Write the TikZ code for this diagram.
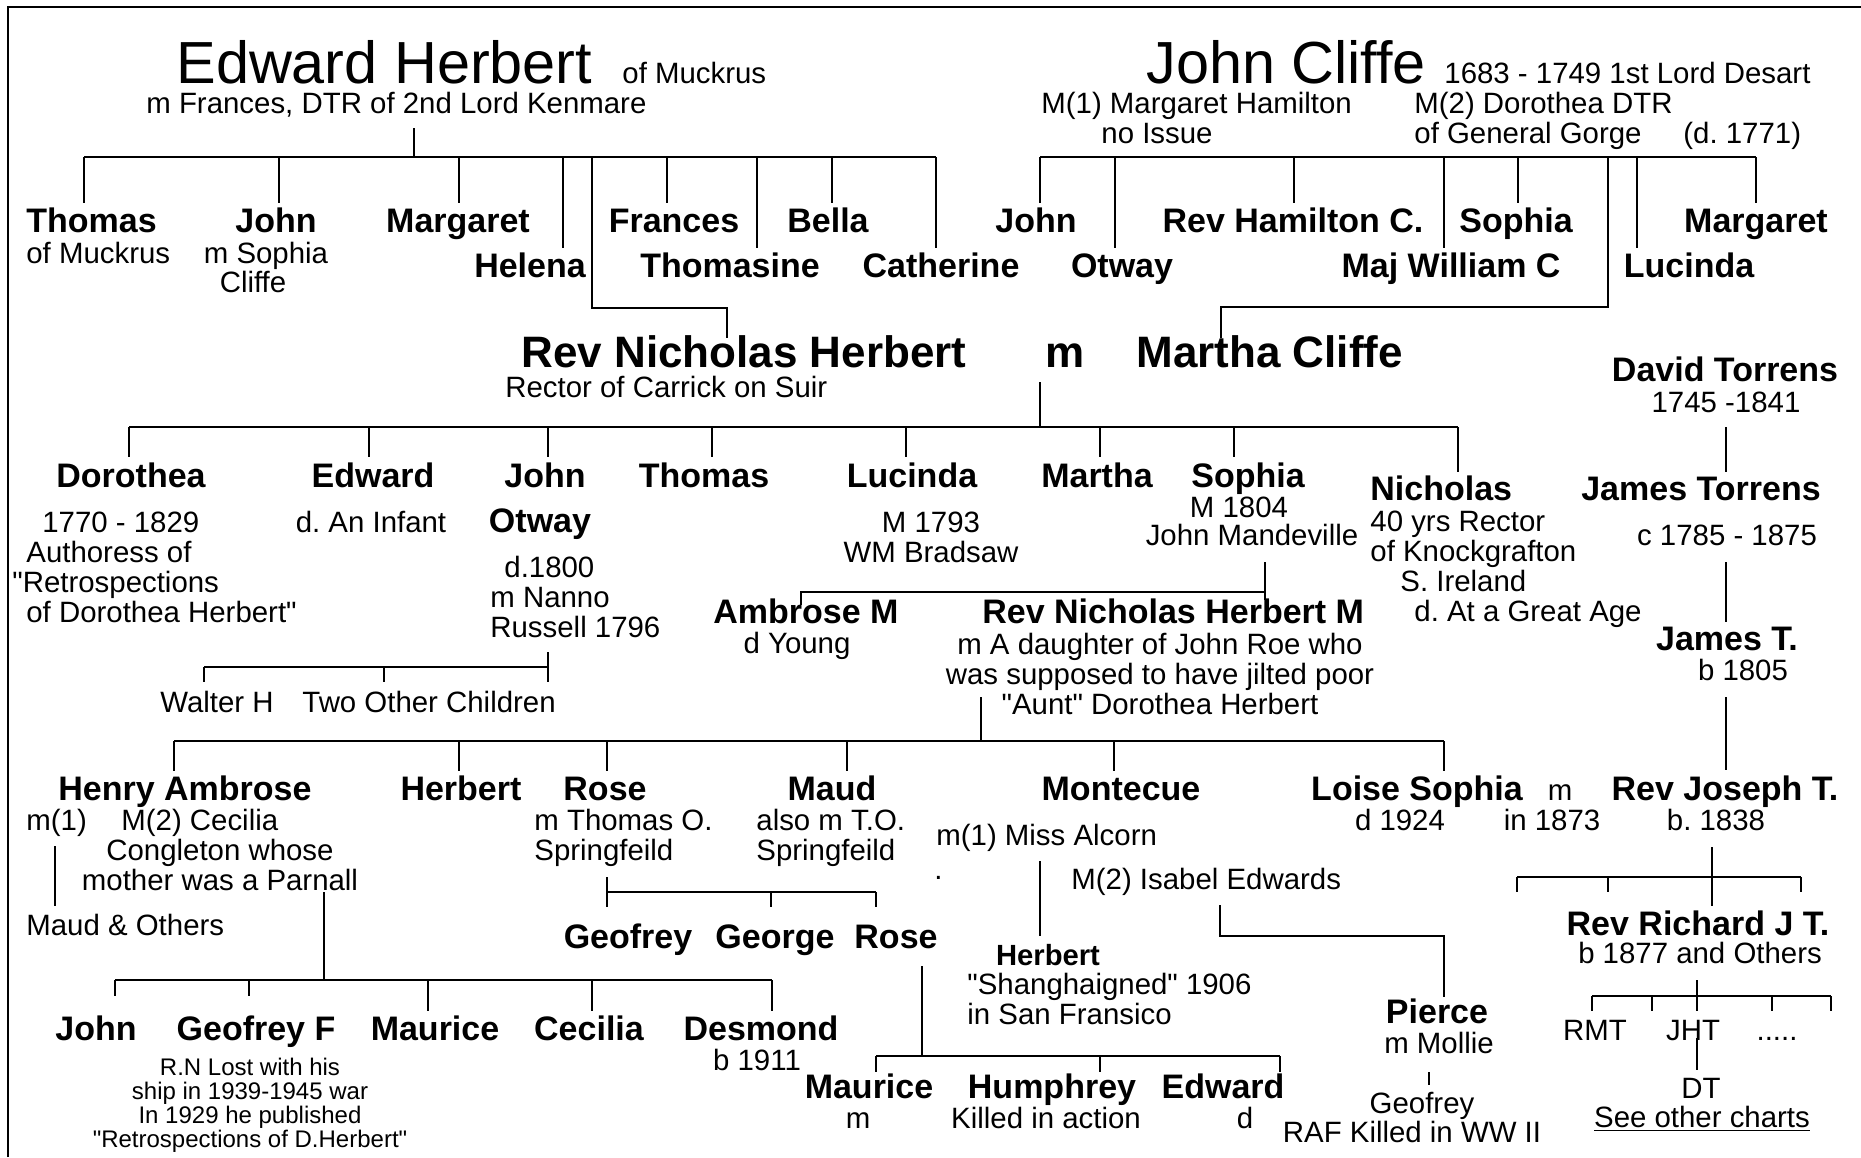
\documentclass[tikz,border=0pt]{standalone}
\usepackage{fontspec}
\setmainfont{Liberation Sans}
\newcommand{\qq}{\textquotedbl}
\frenchspacing
\begin{document}
\begin{tikzpicture}[x=0.5pt,y=-0.5pt,
    every node/.style={inner sep=0pt,anchor=base},
    big/.style={font=\fontsize{29.7}{32}\selectfont,text depth=0pt},
    head/.style={font=\bfseries\fontsize{22}{24}\selectfont},
    nm/.style={font=\bfseries\fontsize{17}{18}\selectfont},
    snm/.style={font=\bfseries\fontsize{14.6}{15}\selectfont},
    txt/.style={font=\fontsize{14.7}{15}\selectfont,align=left},
    ctxt/.style={font=\fontsize{14.7}{15}\selectfont,align=center},
    small/.style={font=\fontsize{12}{12}\selectfont,align=center},
    ln/.style={line width=1.1pt}]
\useasboundingbox (0,0) rectangle (1861,1157);
\draw[line width=1.3pt] (8,1157) -- (8,7) -- (1861,7);

% Edward Herbert and John Cliffe
\node[big,anchor=base west] (eh) at (176,83) {Edward Herbert};
\node[txt,anchor=base west] (ehOf) at (622,83) {of Muckrus};
\node[txt,anchor=base west] (ehWife) at (146,113) {m Frances, DTR of 2nd Lord Kenmare};
\node[big,anchor=base west] (jc) at (1146,83) {John Cliffe};
\node[txt,anchor=base west] (jcYrs) at (1444,83) {1683 - 1749 1st Lord Desart};
\node[txt,anchor=base west] (jcWifeA) at (1041,113) {M(1) Margaret Hamilton};
\node[ctxt] (jcIssue) at (1157,143) {no Issue};
\node[txt,anchor=base west] (jcWifeB) at (1414,143) {M(2) Dorothea DTR\\of General Gorge};
\node[txt,anchor=base west] (jcDied) at (1683,143) {(d. 1771)};

% children of Edward Herbert
\node[nm,anchor=base west] (thomasA) at (26,232) {Thomas};
\node[txt,anchor=base west] (thomasAof) at (26,263) {of Muckrus};
\node[nm] (johnA) at (276,232) {John};
\node[ctxt] (johnAm) at (266,263) {m Sophia};
\node[ctxt] (johnAc) at (253,292) {Cliffe};
\node[nm] (margaretA) at (458,232) {Margaret};
\node[nm] (helena) at (530,277) {Helena};
\node[nm] (frances) at (674,232) {Frances};
\node[nm] (thomasine) at (730,277) {Thomasine};
\node[nm] (bella) at (828,232) {Bella};
\node[nm] (catherine) at (941,277) {Catherine};

% children of John Cliffe
\node[nm] (johnB) at (1036,232) {John};
\node[nm] (otwayB) at (1122,277) {Otway};
\node[nm] (hamilton) at (1293,232) {Rev Hamilton C.};
\node[nm] (sophiaB) at (1516,232) {Sophia};
\node[nm] (william) at (1451,277) {Maj William C};
\node[nm] (lucindaB) at (1689,277) {Lucinda};
\node[nm] (margaretB) at (1756,232) {Margaret};

\draw[ln] (414,128) -- (414,157);
\draw[ln] (84,157) -- (936,157);
\foreach \x in {84,279,459,667,832} \draw[ln] (\x,157) -- (\x,203);
\foreach \x in {563,757,936} \draw[ln] (\x,157) -- (\x,248);
\draw[ln] (592,157) -- (592,308) -- (727,308) -- (727,338);
\draw[ln] (1040,157) -- (1756,157);
\foreach \x in {1040,1294,1518,1756} \draw[ln] (\x,157) -- (\x,203);
\foreach \x in {1115,1444,1637} \draw[ln] (\x,157) -- (\x,248);
\draw[ln] (1608,157) -- (1608,307) -- (1221,307) -- (1221,338);

% Rev Nicholas Herbert m Martha Cliffe
\node[head,anchor=base west] (nich) at (521,367) {Rev Nicholas Herbert};
\node[txt,anchor=base west] (nichRector) at (505,397) {Rector of Carrick on Suir};
\node[head] (nichM) at (1065,367) {m};
\node[head,anchor=base west] (martha) at (1136,367) {Martha Cliffe};
\node[nm] (david) at (1725,381) {David Torrens};
\node[ctxt] (davidYrs) at (1726,412) {1745 -1841};

\draw[ln] (1040,382) -- (1040,427);
\draw[ln] (129,427) -- (1458,427);
\foreach \x in {129,369,548,712,906,1100,1234} \draw[ln] (\x,427) -- (\x,457);
\draw[ln] (1458,427) -- (1458,472);

% their children
\node[nm] (dorothea) at (131,487) {Dorothea};
\node[txt,anchor=base west] (dorotheaTxt) at (12,622) {\hspace*{15pt}1770 - 1829\\\hspace*{7pt}Authoress of\\\qq Retrospections\\\hspace*{7pt}of Dorothea Herbert\qq};
\node[nm] (edward) at (373,487) {Edward};
\node[ctxt] (edwardTxt) at (371,532) {d. An Infant};
\node[nm] (johnC) at (545,487) {John};
\node[nm] (otwayC) at (540,532) {Otway};
\node[txt,anchor=base west] (johnCtxt) at (490,637) {\hspace*{7pt}d.1800\\m Nanno\\Russell 1796};
\node[nm] (thomasC) at (704,487) {Thomas};
\node[nm] (lucindaC) at (912,487) {Lucinda};
\node[ctxt] (lucindaTxt) at (931,562) {M 1793\\WM Bradsaw};
\node[nm] (marthaC) at (1097,487) {Martha};
\node[nm] (sophiaC) at (1248,487) {Sophia};
\node[ctxt] (sophiaYr) at (1239,517) {M 1804};
\node[ctxt] (sophiaHus) at (1252,545) {John Mandeville};
\node[nm,anchor=base west] (nicholas) at (1370,500) {Nicholas};
\node[txt,anchor=base west] (nicholasTxt) at (1370,621) {40 yrs Rector\\of Knockgrafton\\\hspace*{15pt}S. Ireland\\\hspace*{22pt}d. At a Great Age};
\node[nm] (jamesA) at (1701,500) {James Torrens};
\node[ctxt] (jamesAyrs) at (1727,545) {c 1785 - 1875};

\node[txt,anchor=base west] (walter) at (160,712) {Walter H};
\node[txt,anchor=base west] (twoOther) at (302,712) {Two Other Children};
\draw[ln] (548,652) -- (548,682);
\draw[ln] (204,667) -- (548,667);
\foreach \x in {204,384} \draw[ln] (\x,667) -- (\x,682);

\node[nm] (ambrose) at (806,623) {Ambrose M};
\node[ctxt] (ambroseTxt) at (797,653) {d Young};
\node[nm,anchor=base west] (nichB) at (982,623) {Rev Nicholas Herbert M};
\node[ctxt] (nichBtxt) at (1160,714) {m A daughter of John Roe who\\was supposed to have jilted poor\\\qq Aunt\qq\ Dorothea Herbert};
\node[nm] (jamesB) at (1727,650) {James T.};
\node[ctxt] (jamesByr) at (1743,680) {b 1805};

\draw[ln] (1265,562) -- (1265,600);
\draw[ln] (801,605) -- (801,592) -- (1265,592);
\draw[ln] (1726,427) -- (1726,472);
\draw[ln] (1726,562) -- (1726,622);
\draw[ln] (1726,697) -- (1726,770);

\draw[ln] (981,697) -- (981,741);
\draw[ln] (174,741) -- (1444,741);
\foreach \x in {174,459,607,847,1114,1444} \draw[ln] (\x,741) -- (\x,771);

% grandchildren
\node[nm] (henry) at (185,800) {Henry Ambrose};
\node[txt,anchor=base west] (henryM1) at (26,830) {m(1)};
\node[txt,anchor=base west] (henryM2) at (121,830) {M(2) Cecilia};
\node[ctxt] (henryM2b) at (220,890) {Congleton whose\\mother was a Parnall};
\node[txt,anchor=base west] (maudOthers) at (26,935) {Maud \& Others};
\node[nm] (herbertA) at (461,800) {Herbert};
\node[nm] (roseA) at (605,800) {Rose};
\node[txt,anchor=base west] (roseAtxt) at (534,860) {m Thomas O.\\Springfeild};
\node[nm] (maud) at (832,800) {Maud};
\node[txt,anchor=base west] (maudTxt) at (756,860) {also m T.O.\\Springfeild};
\node[nm] (montecue) at (1121,800) {Montecue};
\node[txt,anchor=base west] (montecueM1) at (936,845) {m(1) Miss Alcorn};
\node[txt,anchor=base west] (stray) at (934,879) {.};
\node[txt,anchor=base west] (montecueM2) at (1071,889) {M(2) Isabel Edwards};
\node[nm] (loise) at (1417,800) {Loise Sophia};
\node[ctxt] (loiseTxt) at (1400,830) {d 1924};
\node[ctxt] (loiseM) at (1560,800) {m};
\node[ctxt] (loiseMyr) at (1552,830) {in 1873};
\node[nm] (joseph) at (1725,800) {Rev Joseph T.};
\node[ctxt] (josephTxt) at (1716,830) {b. 1838};

\draw[ln] (55,846) -- (55,906);
\draw[ln] (324,892) -- (324,980);
\draw[ln] (115,980) -- (772,980);
\foreach \x in {115,249} \draw[ln] (\x,980) -- (\x,996);
\foreach \x in {428,592,772} \draw[ln] (\x,980) -- (\x,1011);

\node[nm] (geofreyA) at (628,948) {Geofrey};
\node[nm] (george) at (775,948) {George};
\node[nm] (roseB) at (896,948) {Rose};
\draw[ln] (607,877) -- (607,907);
\draw[ln] (607,892) -- (876,892);
\foreach \x in {771,876} \draw[ln] (\x,892) -- (\x,907);

\node[snm] (herbertB) at (1048,965) {Herbert};
\node[txt,anchor=base west] (herbertBtxt) at (967,1024) {\qq Shanghaigned\qq\ 1906\\in San Fransico};
\draw[ln] (1040,861) -- (1040,936);
\draw[ln] (1220,905) -- (1220,936) -- (1444,936) -- (1444,997);

\node[nm] (richard) at (1698,935) {Rev Richard J T.};
\node[ctxt] (richardTxt) at (1700,963) {b 1877 and Others};
\draw[ln] (1712,847) -- (1712,906);
\draw[ln] (1517,877) -- (1801,877);
\foreach \x in {1517,1608,1801} \draw[ln] (\x,877) -- (\x,892);

\node[nm] (johnD) at (96,1040) {John};
\node[nm] (geofreyF) at (256,1040) {Geofrey F};
\node[small] (geofreyFtxt) at (250,1147) {R.N Lost with his\\ship in 1939-1945 war\\In 1929 he published\\\qq Retrospections of D.Herbert\qq};
\node[nm] (mauriceA) at (435,1040) {Maurice};
\node[nm] (cecilia) at (589,1040) {Cecilia};
\node[nm] (desmond) at (761,1040) {Desmond};
\node[ctxt] (desmondYr) at (757,1070) {b 1911};

\node[nm] (mauriceB) at (869,1098) {Maurice};
\node[ctxt] (mauriceBtxt) at (858,1128) {m};
\node[nm] (humphrey) at (1052,1098) {Humphrey};
\node[ctxt] (humphreyTxt) at (1046,1128) {Killed in action};
\node[nm] (edwardB) at (1223,1098) {Edward};
\node[ctxt] (edwardBtxt) at (1245,1128) {d};
\draw[ln] (922,966) -- (922,1056);
\draw[ln] (876,1056) -- (1280,1056);
\foreach \x in {876,1100,1280} \draw[ln] (\x,1056) -- (\x,1072);

\node[nm] (pierce) at (1437,1023) {Pierce};
\node[ctxt] (pierceTxt) at (1439,1053) {m Mollie};
\node[ctxt] (geofreyB) at (1422,1113) {Geofrey};
\node[ctxt] (geofreyBtxt) at (1412,1142) {RAF Killed in WW II};
\draw[ln] (1429,1072) -- (1429,1085);

\node[ctxt] (rmt) at (1595,1040) {RMT};
\node[ctxt] (jht) at (1693,1040) {JHT};
\node[ctxt] (more) at (1777,1040) {.....};
\node[ctxt] (dt) at (1701,1098) {DT};
\node[ctxt] (charts) at (1702,1127) {\underline{See other charts}};
\draw[ln] (1697,980) -- (1697,1011);
\draw[ln] (1592,996) -- (1831,996);
\foreach \x in {1592,1652,1772,1831} \draw[ln] (\x,996) -- (\x,1011);
\draw[ln] (1697,1038) -- (1697,1070);
\end{tikzpicture}
\end{document}
